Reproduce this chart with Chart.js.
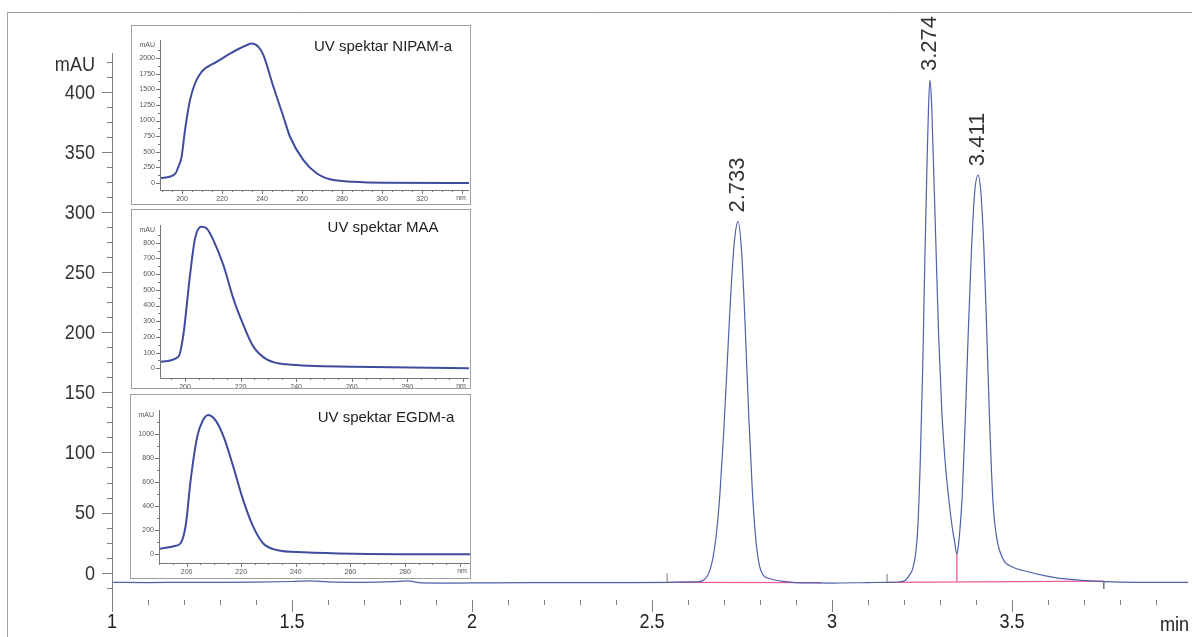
<!DOCTYPE html>
<html>
<head>
<meta charset="utf-8">
<script src="https://cdn.jsdelivr.net/npm/chart.js@4.4.1/dist/chart.umd.min.js"></script>
<style>
    body { margin: 0; background: #fff; }
    #lienzo { position: relative; width: 1192px; height: 637px; overflow: hidden; background: #fff; }
    #principal { position: absolute; left: 0; top: 0; }
    .recuadro { position: absolute; border: 1px solid #a0a0a0; background: #fff; }
</style>
</head>
<body>
<div id="lienzo">
    <canvas id="principal" width="1192" height="637"></canvas>
    <div class="recuadro" style="left:131px;top:25px;width:338px;height:178px;"><canvas id="espNipam" width="338" height="178"></canvas></div>
    <div class="recuadro" style="left:131px;top:209px;width:338px;height:178px;"><canvas id="espMaa" width="338" height="178"></canvas></div>
    <div class="recuadro" style="left:130px;top:394px;width:339px;height:183px;"><canvas id="espEgdm" width="339" height="183"></canvas></div>
</div>
<script>
// Cromatograma (tiempo en min, señal en mAU)
const tiempos = [1.00, 1.10, 1.20, 1.30, 1.40, 1.50, 1.55, 1.60, 1.70, 1.78, 1.82, 1.86, 1.95, 2.05, 2.20, 2.40, 2.55, 2.60,
    2.629, 2.649, 2.659, 2.669, 2.679, 2.689, 2.699, 2.709, 2.719, 2.729, 2.739, 2.749, 2.759, 2.769, 2.779, 2.789, 2.799, 2.809, 2.829, 2.859, 2.899,
    2.95, 3.00, 3.10, 3.15, 3.19,
    3.205, 3.215, 3.224, 3.232, 3.238, 3.245, 3.252, 3.258, 3.264, 3.268, 3.272, 3.276, 3.281, 3.288, 3.296, 3.305, 3.315, 3.325, 3.333, 3.340, 3.347, 3.351, 3.356,
    3.362, 3.370, 3.378, 3.387, 3.396, 3.406, 3.414, 3.422, 3.430, 3.438, 3.447, 3.457, 3.476, 3.50, 3.542, 3.59, 3.634, 3.68, 3.726, 3.80, 3.90, 3.99];
const senal = [-8.0, -8.2, -8.0, -8.1, -7.9, -7.3, -6.8, -7.6, -8.0, -7.5, -6.8, -8.4, -8.6, -8.4, -8.3, -8.2, -8.0, -7.7,
    -7.6, -4.7, 0.5, 11.7, 32.6, 66.8, 115.3, 174.0, 232.3, 275.8, 292, 267.1, 204.1, 129.4, 66.8, 26.2, 5.2, -2, -5, -7, -8.2,
    -8.5, -8.6, -8.2, -8.0, -7.5,
    -6, -2, 3, 15, 35, 90, 170, 260, 340, 385, 409.7, 395, 350, 280, 200, 135, 90, 60, 40, 27, 15.5, 22, 38,
    65, 125, 195, 265, 315, 330.6, 315, 270, 200, 125, 60, 30, 11, 5, 1, -2.5, -4.7, -6, -7, -7.8, -8, -8];

// Picos integrados
const picosTiempo = [2.739, 3.272, 3.406];
const picosAltura = [292, 409.7, 330.6];
const picosEtiqueta = ['2.733', '3.274', '3.411'];

// Líneas base de integración (rosa) y marcas de inicio/fin
const baseInicio = [2.542, 3.153];
const baseFin = [2.970, 3.755];
const baseYInicio = [-8.0, -8.0];
const baseYFin = [-8.3, -7.0];
const corteTiempo = 3.347;
const corteDesde = 15.5;
const corteHasta = -7.5;
const marcasTiempo = [2.542, 3.153, 3.755];
const marcasDesde = [-8.0, -8.0, -7.0];
const marcasHasta = [-0.5, -1.0, -13.5];

// Etiquetas de los ejes del cromatograma
const ticksX = [1, 1.5, 2, 2.5, 3, 3.5];
const ticksY = [0, 50, 100, 150, 200, 250, 300, 350, 400];

// Espectros UV (nm, mAU)
const nipamNm = [189, 196.5, 198.2, 199.8, 201.5, 204, 206.5, 209.8, 217.3, 224, 232.3, 234.8, 238.2, 240.7, 245.7, 250.7, 254, 260.7, 267.3, 274, 285.5, 302, 343.5];
const nipamAbs = [75, 144, 261, 420, 847, 1326, 1592, 1778, 1938, 2071, 2204, 2231, 2178, 2045, 1539, 1060, 740, 367, 155, 59, 21, 5, 0];
const maaNm = [191, 197.6, 199.4, 201.8, 203.6, 205.8, 207.8, 210.2, 213.8, 217.4, 221, 224.6, 229.4, 236.6, 260.5, 302.2];
const maaAbs = [42, 74, 212, 594, 826, 902, 891, 817, 658, 444, 276, 138, 57, 25, 10, 0];
const egdmNm = [189.9, 195.7, 197.8, 199.7, 201.5, 203.9, 205.9, 208, 210, 212, 214, 217.1, 220.7, 224.4, 228, 233, 242.7, 261, 303.8];
const egdmAbs = [44, 69, 92, 244, 619, 980, 1113, 1161, 1133, 1063, 953, 730, 453, 230, 92, 36, 17, 5, 0];

const nipamTicksY = [0, 250, 500, 750, 1000, 1250, 1500, 1750, 2000];
const nipamTicksX = [200, 220, 240, 260, 280, 300, 320];
const maaTicksY = [0, 100, 200, 300, 400, 500, 600, 700, 800];
const maaTicksX = [200, 220, 240, 260, 280];
const egdmTicksY = [0, 200, 400, 600, 800, 1000];
const egdmTicksX = [200, 220, 240, 260, 280];

const FUENTE = "'Liberation Sans', Arial, sans-serif";
const ESTRECHO = 0.86; // la fuente original es condensada

function aPuntos(xs, ys) {
    return xs.map((v, i) => ({ x: v, y: ys[i] }));
}

// Texto comprimido horizontalmente
function textoEstrecho(ctx, txt, x, y, alinear) {
    ctx.save();
    ctx.translate(x, y);
    ctx.scale(ESTRECHO, 1);
    ctx.textAlign = alinear;
    ctx.fillText(txt, 0, 0);
    ctx.restore();
}

// Marco, marcas de los ejes y etiquetas de picos del cromatograma
const decoracionPrincipal = {
    id: 'decoracionPrincipal',
    afterDraw(chart) {
        const { ctx, chartArea: a, scales: { x, y } } = chart;
        ctx.save();
        ctx.lineWidth = 1;

        // marco exterior
        ctx.strokeStyle = '#a0a0a0';
        ctx.beginPath();
        ctx.moveTo(7.5, 637);
        ctx.lineTo(7.5, 12.5);
        ctx.lineTo(1192, 12.5);
        ctx.stroke();

        // eje Y
        ctx.strokeStyle = '#808080';
        ctx.beginPath();
        ctx.moveTo(a.left + 0.5, a.top);
        ctx.lineTo(a.left + 0.5, a.bottom);
        ctx.stroke();

        // marcas Y cada 12.5 mAU
        ctx.beginPath();
        for (let v = -12.5; v <= 425; v += 12.5) {
            const py = Math.round(y.getPixelForValue(v)) + 0.5;
            const largo = (v % 50 === 0) ? 10 : 5;
            ctx.moveTo(a.left - largo, py);
            ctx.lineTo(a.left, py);
        }
        // marcas X cada 0.1 min
        for (let i = 0; i <= 29; i++) {
            const px = Math.round(x.getPixelForValue(1 + i * 0.1)) + 0.5;
            const largo = (i % 5 === 0) ? 12 : 5;
            ctx.moveTo(px, a.bottom);
            ctx.lineTo(px, a.bottom + largo);
        }
        ctx.stroke();

        // números de los ejes, a partir de los ticks de cada escala
        ctx.font = '21px ' + FUENTE;
        ctx.textBaseline = 'middle';
        ctx.fillStyle = '#333';
        y.ticks.forEach(t => {
            textoEstrecho(ctx, String(t.value), a.left - 17, y.getPixelForValue(t.value) + 1, 'right');
        });
        textoEstrecho(ctx, 'mAU', a.left - 17, y.getPixelForValue(425) + 4, 'right');
        ctx.fillStyle = '#222';
        x.ticks.forEach(t => {
            textoEstrecho(ctx, String(t.value), x.getPixelForValue(t.value), 622, 'center');
        });
        textoEstrecho(ctx, 'min', 1189, 625, 'right');

        // etiquetas de picos, giradas
        ctx.font = '22px ' + FUENTE;
        ctx.fillStyle = '#333';
        ctx.textAlign = 'left';
        ctx.textBaseline = 'middle';
        picosTiempo.forEach((t, i) => {
            const px = x.getPixelForValue(t);
            const py = y.getPixelForValue(picosAltura[i]);
            ctx.save();
            ctx.translate(px, py - 9);
            ctx.rotate(-Math.PI / 2);
            ctx.fillText(picosEtiqueta[i], 0, 0);
            ctx.restore();
        });
        ctx.restore();
    }
};

// Crear el cromatograma principal
function crearCromatograma() {
    const ctx = document.getElementById('principal').getContext('2d');
    const datasets = [{
        data: aPuntos(tiempos, senal),
        borderColor: '#5160aa',
        borderWidth: 1.2,
        pointRadius: 0,
        cubicInterpolationMode: 'monotone',
        order: 1
    }];

    // líneas base rosas
    baseInicio.forEach((t, i) => {
        datasets.push({
            data: [{ x: t, y: baseYInicio[i] }, { x: baseFin[i], y: baseYFin[i] }],
            borderColor: '#ec5b98',
            borderWidth: 1.3,
            pointRadius: 0,
            order: 2
        });
    });
    datasets.push({
        data: [{ x: corteTiempo, y: corteDesde }, { x: corteTiempo, y: corteHasta }],
        borderColor: '#ec5b98',
        borderWidth: 1.3,
        pointRadius: 0,
        order: 2
    });
    // marcas de inicio/fin de integración
    marcasTiempo.forEach((t, i) => {
        datasets.push({
            data: [{ x: t, y: marcasDesde[i] }, { x: t, y: marcasHasta[i] }],
            borderColor: '#777',
            borderWidth: 1,
            pointRadius: 0,
            order: 0
        });
    });

    new Chart(ctx, {
        type: 'line',
        data: { datasets },
        options: {
            responsive: false,
            animation: false,
            devicePixelRatio: 1,
            layout: { padding: { top: 53, right: 4, left: 0, bottom: 0 } },
            plugins: { legend: { display: false }, tooltip: { enabled: false } },
            scales: {
                x: {
                    type: 'linear',
                    min: 1,
                    max: 3.989,
                    afterBuildTicks: s => { s.ticks = ticksX.map(v => ({ value: v })); },
                    afterFit: s => { s.height = 37; },
                    grid: { display: false, drawTicks: false },
                    border: { display: false },
                    ticks: { display: false }
                },
                y: {
                    type: 'linear',
                    min: -22.7,
                    max: 432.2,
                    afterBuildTicks: s => { s.ticks = ticksY.map(v => ({ value: v })); },
                    afterFit: s => { s.width = 112; },
                    grid: { display: false, drawTicks: false },
                    border: { display: false },
                    ticks: { display: false }
                }
            }
        },
        plugins: [decoracionPrincipal]
    });
}

// Ejes pequeños y título de cada espectro
const ejesEspectro = {
    id: 'ejesEspectro',
    afterDraw(chart, args, op) {
        const { ctx, chartArea: a, scales: { x, y } } = chart;
        ctx.save();
        ctx.strokeStyle = '#777';
        ctx.lineWidth = 1;
        ctx.beginPath();
        ctx.moveTo(a.left + 0.5, a.top);
        ctx.lineTo(a.left + 0.5, a.bottom + 0.5);
        ctx.lineTo(a.right, a.bottom + 0.5);
        for (let v = 0; v <= op.topeY; v += op.pasoY / 2) {
            const py = Math.round(y.getPixelForValue(v)) + 0.5;
            const largo = (v % op.pasoY === 0) ? 4 : 2;
            ctx.moveTo(a.left - largo, py);
            ctx.lineTo(a.left, py);
        }
        for (let v = Math.ceil(x.min / 5) * 5; v <= x.max; v += 5) {
            const px = Math.round(x.getPixelForValue(v)) + 0.5;
            const largo = (v % 20 === 0) ? 4 : 2;
            ctx.moveTo(px, a.bottom);
            ctx.lineTo(px, a.bottom + largo);
        }
        ctx.stroke();

        ctx.fillStyle = '#555';
        ctx.font = '7px ' + FUENTE;
        ctx.textAlign = 'right';
        ctx.textBaseline = 'middle';
        ctx.fillText('mAU', a.left - 5, y.getPixelForValue(op.topeY));
        ctx.textAlign = 'center';
        ctx.textBaseline = 'top';
        ctx.fillText('nm', a.right - 8, a.bottom + 5);

        ctx.fillStyle = '#222';
        ctx.font = '15px ' + FUENTE;
        ctx.textBaseline = 'middle';
        ctx.fillText(op.titulo, op.tituloX, op.tituloY);
        ctx.restore();
    }
};

// Crear un espectro UV dentro de su recuadro
function crearEspectro(idCanvas, nm, abs, ticksEjeX, ticksEjeY, cfg) {
    const ctx = document.getElementById(idCanvas).getContext('2d');
    new Chart(ctx, {
        type: 'line',
        data: {
            datasets: [{
                data: aPuntos(nm, abs),
                borderColor: '#3f4c9e',
                borderWidth: 2,
                pointRadius: 0,
                cubicInterpolationMode: 'monotone'
            }]
        },
        options: {
            responsive: false,
            animation: false,
            devicePixelRatio: 1,
            layout: { padding: { top: cfg.arriba, right: cfg.derecha, left: 0, bottom: 0 } },
            plugins: {
                legend: { display: false },
                tooltip: { enabled: false },
                ejesEspectro: {
                    titulo: cfg.titulo,
                    tituloX: cfg.tituloX,
                    tituloY: cfg.tituloY,
                    pasoY: cfg.pasoY,
                    topeY: cfg.topeY
                }
            },
            scales: {
                x: {
                    type: 'linear',
                    min: nm[0],
                    max: nm[nm.length - 1],
                    afterBuildTicks: s => { s.ticks = ticksEjeX.map(v => ({ value: v })); },
                    afterFit: s => { s.height = cfg.altoX; },
                    grid: { display: false, drawTicks: false },
                    border: { display: false },
                    ticks: {
                        autoSkip: false, maxRotation: 0, padding: 5, color: '#555',
                        font: { family: FUENTE, size: 7 },
                        callback: v => String(v)
                    }
                },
                y: {
                    type: 'linear',
                    min: cfg.minY,
                    max: cfg.maxY,
                    afterBuildTicks: s => { s.ticks = ticksEjeY.map(v => ({ value: v })); },
                    afterFit: s => { s.width = cfg.anchoY; },
                    grid: { display: false, drawTicks: false },
                    border: { display: false },
                    ticks: {
                        padding: 5, color: '#555',
                        font: { family: FUENTE, size: 7 },
                        callback: v => String(v)
                    }
                }
            }
        },
        plugins: [ejesEspectro]
    });
}

crearCromatograma();
crearEspectro('espNipam', nipamNm, nipamAbs, nipamTicksX, nipamTicksY, {
    titulo: 'UV spektar NIPAM-a', tituloX: 251, tituloY: 21,
    minY: -112, maxY: 2288, pasoY: 250, topeY: 2200,
    arriba: 14, derecha: 1, anchoY: 28, altoX: 14
});
crearEspectro('espMaa', maaNm, maaAbs, maaTicksX, maaTicksY, {
    titulo: 'UV spektar MAA', tituloX: 251, tituloY: 18,
    minY: -62, maxY: 913, pasoY: 100, topeY: 880,
    arriba: 15, derecha: 1, anchoY: 28, altoX: 10
});
crearEspectro('espEgdm', egdmNm, egdmAbs, egdmTicksX, egdmTicksY, {
    titulo: 'UV spektar EGDM-a', tituloX: 255, tituloY: 23,
    minY: -72.5, maxY: 1202, pasoY: 200, topeY: 1160,
    arriba: 15, derecha: 0, anchoY: 28, altoX: 15
});
</script>
</body>
</html>
